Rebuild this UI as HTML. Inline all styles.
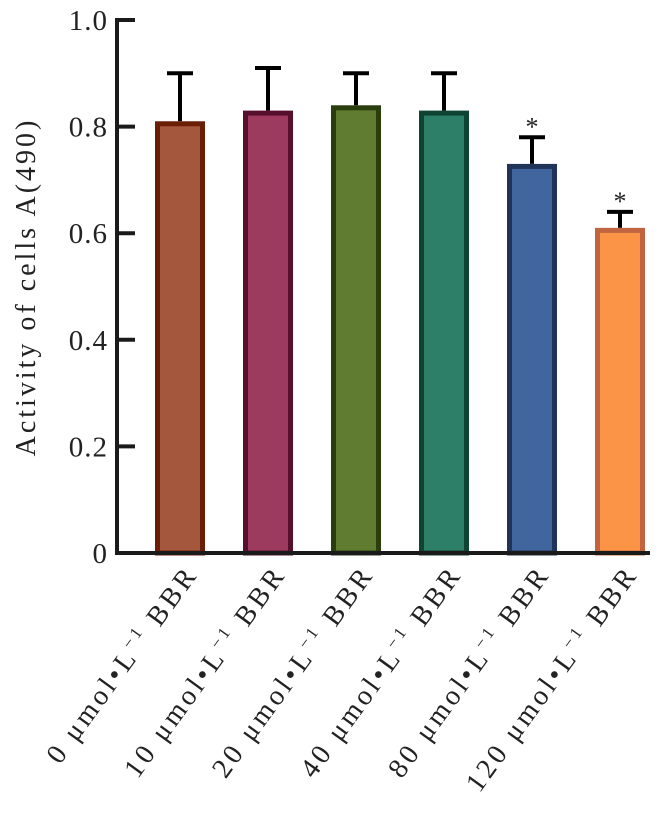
<!DOCTYPE html>
<html><head><meta charset="utf-8"><style>
body{margin:0;background:#fff}
svg text{font-family:"Liberation Serif","DejaVu Serif",serif;fill:#222}
</style></head><body>
<svg id="chart" width="663" height="811" xmlns="http://www.w3.org/2000/svg">
<g id="bars"></g>
<g id="axes"></g>
<text transform="translate(35,287) rotate(-90)" text-anchor="middle" font-size="28" letter-spacing="3">Activity of cells A(490)</text>
</svg>
<script>
const categories=["0","10","20","40","80","120"];
const values=[0.81,0.83,0.84,0.83,0.73,0.61];
const errors=[0.09,0.08,0.06,0.07,0.05,0.03];
const significant=[false,false,false,false,true,true];
const yTicks=[0,0.2,0.4,0.6,0.8,1.0];
const yTickLabels=["0","0.2","0.4","0.6","0.8","1.0"];
const fills=["#a5573d","#9c3b5e","#5f7c30","#2e7f67","#41659d","#fb9446"];
const strokes=["#6b1e06","#560f2c","#2a3d0d","#0f4332","#1f3458","#c0653f"];
const NS="http://www.w3.org/2000/svg";
const y=v=>553-v*533;
const x=i=>180+i*88;
const bars=document.getElementById('bars'),axes=document.getElementById('axes');
function mk(tag,attrs,parent){const e=document.createElementNS(NS,tag);for(const k in attrs)e.setAttribute(k,attrs[k]);parent.appendChild(e);return e;}
values.forEach((v,i)=>{
  const cx=x(i);
  const eb=mk('path',{d:`M${cx},${y(v)} V${y(v+errors[i])} M${cx-13},${y(v+errors[i])} H${cx+13}`,stroke:'#000','stroke-width':4,fill:'none'},bars);
  
  
  const r=mk('rect',{x:cx-22.5,y:y(v)+2.5,width:45,height:553-y(v)-2.5,fill:fills[i],stroke:strokes[i],'stroke-width':5},bars);
  
  
  if(significant[i]){
    const s=mk('text',{x:cx,y:y(v+errors[i])-2,'text-anchor':'middle','font-size':26},bars);
    s.textContent='*';
    
    
  }
  const t=mk('text',{transform:`translate(${cx+19},574) rotate(-54)`,'text-anchor':'end','font-size':28,'letter-spacing':3.5},axes);
  
  
  t.innerHTML=categories[i]+' μmol•L<tspan dy="-11" font-size="17">−1</tspan><tspan dy="11"> BBR</tspan>';
});
const ax=mk('path',{d:`M135,${y(1)} H117 V553 H650`,stroke:'#1a1a1a','stroke-width':4,fill:'none'},axes);


yTicks.forEach((v,i)=>{
  if(v>0&&v<1){const tk=mk('line',{x1:117,x2:135,y1:y(v),y2:y(v),stroke:'#1a1a1a','stroke-width':4},axes);
  
  }
  const l=mk('text',{x:108,y:y(v)+10,'text-anchor':'end','font-size':29,'letter-spacing':1},axes);
  l.textContent=yTickLabels[i];
  
  
});
</script>
</body></html>
